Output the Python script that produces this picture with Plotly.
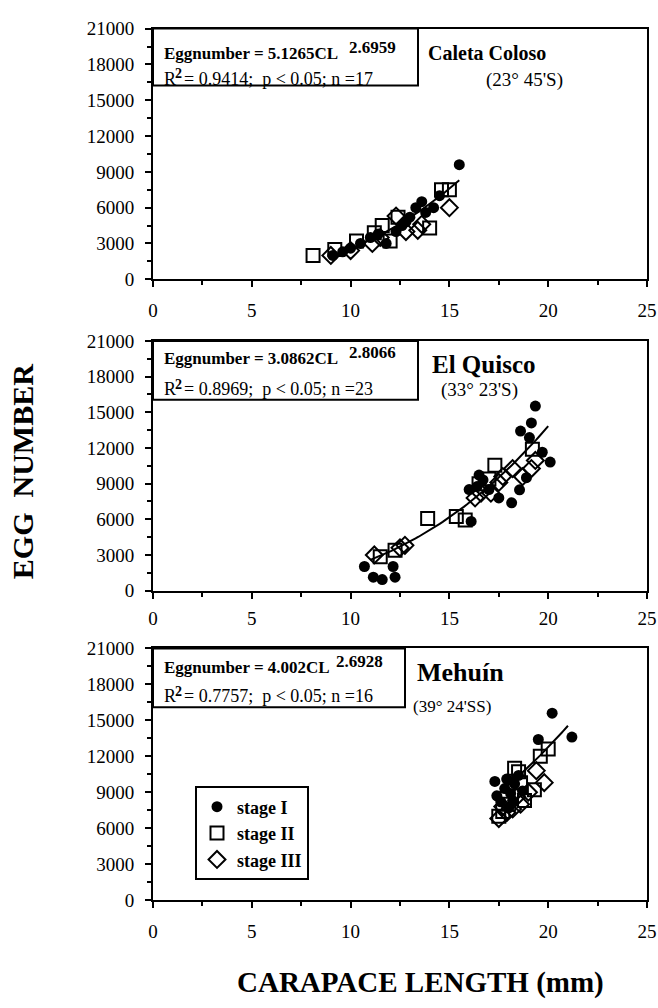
import numpy as np
import plotly.graph_objects as go

# ---------------- data ----------------
# Panel 1: Caleta Coloso
p1_s1_x = [9.1, 9.6, 10.0, 10.5, 11.0, 11.4, 11.8, 12.3, 12.6, 12.8, 13.0, 13.3, 13.6, 13.8, 14.2, 14.5, 15.5]
p1_s1_y = [2000, 2300, 2600, 3000, 3500, 3800, 3000, 4000, 4500, 4800, 5200, 6000, 6500, 5600, 6000, 7000, 9600]
p1_s2_x = [8.1, 9.2, 10.3, 11.2, 11.6, 12.0, 12.4, 14.0, 14.6, 15.0]
p1_s2_y = [2000, 2500, 3200, 3900, 4500, 3200, 5200, 4300, 7500, 7500]
p1_s3_x = [9.0, 10.0, 11.1, 11.5, 12.3, 12.8, 13.4, 13.6, 15.0]
p1_s3_y = [2000, 2400, 3000, 3500, 5300, 4000, 4100, 4600, 6000]

# Panel 2: El Quisco
p2_s1_x = [10.7, 11.15, 11.6, 12.25, 12.15, 16.1, 16.0, 16.4, 16.5, 16.7, 17.0, 17.5, 18.15, 18.55, 18.6, 18.9, 19.05, 19.15, 19.35, 19.7, 20.1]
p2_s1_y = [2030, 1130, 930, 1130, 2030, 5820, 8500, 8750, 9720, 9310, 8500, 7800, 7390, 8480, 13420, 9500, 12870, 14110, 15520, 11640, 10810]
p2_s2_x = [11.5, 12.25, 13.9, 15.35, 15.8, 16.5, 17.0, 17.3, 19.2]
p2_s2_y = [2860, 3400, 6070, 6230, 5950, 9000, 9400, 10540, 11900]
p2_s3_x = [11.2, 12.5, 12.75, 16.3, 16.6, 17.1, 17.5, 17.7, 18.2, 18.7, 19.15, 19.35]
p2_s3_y = [3000, 3600, 3810, 7800, 8200, 8200, 9100, 9600, 10270, 9580, 10270, 10950]

# Panel 3: Mehuín
p3_s1_x = [17.3, 17.4, 17.6, 17.8, 17.9, 18.0, 18.1, 18.2, 18.3, 18.5, 18.7, 19.5, 20.2, 21.2]
p3_s1_y = [9900, 8700, 8200, 9300, 10100, 7700, 8900, 8300, 9700, 10400, 9100, 13400, 15600, 13600]
p3_s2_x = [17.5, 17.7, 18.0, 18.3, 18.5, 18.6, 18.8, 19.3, 19.6, 20.0]
p3_s2_y = [7000, 7400, 8000, 11000, 10700, 9800, 8300, 9200, 12000, 12600]
p3_s3_x = [17.5, 17.7, 17.9, 18.2, 18.4, 18.6, 19.0, 19.4, 19.8]
p3_s3_y = [6800, 7800, 7300, 7600, 8600, 8000, 9000, 10800, 9800]

# Regression (published) coefficients and fitted CL range
fit_a = [5.1265, 3.0862, 4.002]
fit_b = [2.6959, 2.8066, 2.6928]
fit_xmin = [9.0, 11.0, 17.4]
fit_xmax = [15.5, 20.0, 21.0]
eq_lhs = ["Eggnumber = 5.1265CL", "Eggnumber = 3.0862CL", "Eggnumber = 4.002CL"]
eq_exp = ["2.6959", "2.8066", "2.6928"]
r2_vals = ["0.9414", "0.8969", "0.7757"]
n_vals = ["17", "23", "16"]
site_names = ["Caleta Coloso", "El Quisco", "Mehuín"]
site_lats = ["(23° 45'S)", "(33° 23'S)", "(39° 24'SS)"]

x_ticks = [0, 5, 10, 15, 20, 25]
x_ticktext = ["0", "5", "10", "15", "20", "25"]
y_ticks = [0, 3000, 6000, 9000, 12000, 15000, 18000, 21000]
y_ticktext = ["0", "3000", "6000", "9000", "12000", "15000", "18000", "21000"]
stage_names = ["stage I", "stage II", "stage III"]

# ---------------- layout geometry ----------------
W, H = 658, 1008
ML, MR = 153, 11
panel_px = [(19, 275), (338, 593), (652, 909)]  # top, bottom in pixels


def py(v):
    return 1 - v / H


def px(v):
    return (v - ML) / (W - ML - MR)


FONT = "Liberation Serif"
fig = go.Figure()

series = [
    [(p1_s1_x, p1_s1_y), (p1_s2_x, p1_s2_y), (p1_s3_x, p1_s3_y)],
    [(p2_s1_x, p2_s1_y), (p2_s2_x, p2_s2_y), (p2_s3_x, p2_s3_y)],
    [(p3_s1_x, p3_s1_y), (p3_s2_x, p3_s2_y), (p3_s3_x, p3_s3_y)],
]
marker_styles = [
    dict(symbol="circle", size=11, color="black", line=dict(width=0)),
    dict(symbol="square-open", size=13, color="black", line=dict(width=2, color="black")),
    dict(symbol="diamond-open", size=13, color="black", line=dict(width=2, color="black")),
]

for i in range(3):
    xa = "x" if i == 0 else f"x{i+1}"
    ya = "y" if i == 0 else f"y{i+1}"
    for s in [2, 1, 0]:
        xs, ys = series[i][s]
        fig.add_trace(go.Scatter(
            x=xs, y=ys, mode="markers", marker=marker_styles[s],
            name=f"<b>{stage_names[s]}</b>", xaxis=xa, yaxis=ya,
            showlegend=(i == 2), legendrank=s,
        ))
    cl = np.linspace(fit_xmin[i], fit_xmax[i], 60)
    fig.add_trace(go.Scatter(
        x=cl, y=fit_a[i] * cl ** fit_b[i], mode="lines",
        line=dict(color="black", width=2), xaxis=xa, yaxis=ya, showlegend=False,
    ))

axis_common = dict(showgrid=False, zeroline=False, showline=True, linecolor="black",
                   linewidth=2, mirror=True, ticks="outside", tickcolor="black",
                   tickfont=dict(family=FONT, size=19, color="black"))

layout = dict(
    width=W, height=H, plot_bgcolor="white", paper_bgcolor="white",
    margin=dict(l=ML, r=MR, t=0, b=0),
    showlegend=True,
    legend=dict(x=px(195), y=py(793), xanchor="left", yanchor="top",
                bordercolor="black", borderwidth=2, bgcolor="white",
                font=dict(family=FONT, size=18, color="black"),
                tracegroupgap=0, itemwidth=30, traceorder="normal"),
)

shapes = []
annotations = []
for i, (top, bot) in enumerate(panel_px):
    xk = "xaxis" if i == 0 else f"xaxis{i+1}"
    yk = "yaxis" if i == 0 else f"yaxis{i+1}"
    ya = "y" if i == 0 else f"y{i+1}"
    xa = "x" if i == 0 else f"x{i+1}"
    layout[xk] = dict(axis_common, domain=[0, 1], range=[0, 25], anchor=ya,
                      tickmode="array", tickvals=x_ticks, ticktext=x_ticktext,
                      ticklen=6, tickwidth=2, ticklabelstandoff=(4 if i == 1 else 7),
                      minor=dict(dtick=2.5, ticklen=4, tickwidth=1.5, tickcolor="black", ticks="outside"))
    layout[yk] = dict(axis_common, domain=[py(bot), py(top)], range=[0, 21000], anchor=xa,
                      tickmode="array", tickvals=y_ticks, ticktext=y_ticktext,
                      ticklen=6, tickwidth=2, ticklabelstandoff=7,
                      minor=dict(dtick=1500, ticklen=4, tickwidth=1.5, tickcolor="black", ticks="outside"))

# Equation boxes and texts
eq_boxes = [(153, 418, 19, 77), (153, 418, 338, 398), (153, 405, 652, 712)]
eq_exp_x = [347, 347, 334]
eq_line_y = [(44, 70), (356, 387), (671, 701)]
site_pos = [((487, 44, 20, 19), (524, 72)), ((484, 362, 25, 19), (479, 388)), ((460, 677, 26, 17), (452, 711))]
for i in range(3):
    x0, x1, y0, y1 = eq_boxes[i]
    shapes.append(dict(type="rect", xref="paper", yref="paper",
                       x0=px(x0), x1=px(x1), y0=py(y1), y1=py(y0),
                       line=dict(color="black", width=2), fillcolor="white", layer="above"))
    ly1, ly2 = eq_line_y[i]
    # equation line with exponent
    annotations.append(dict(xref="paper", yref="paper", x=px(162), y=py(ly1),
                            xanchor="left", yanchor="middle", showarrow=False,
                            text=f"<b>{eq_lhs[i]}</b>", font=dict(family=FONT, size=17, color="black")))
    annotations.append(dict(xref="paper", yref="paper", x=px(eq_exp_x[i]), y=py(ly1 - 6),
                            xanchor="left", yanchor="middle", showarrow=False,
                            text=f"<b>{eq_exp[i]}</b>", font=dict(family=FONT, size=17, color="black")))
    # R2 line
    annotations.append(dict(xref="paper", yref="paper", x=px(162), y=py(ly2),
                            xanchor="left", yanchor="middle", showarrow=False,
                            text="R", font=dict(family=FONT, size=18, color="black")))
    annotations.append(dict(xref="paper", yref="paper", x=px(173), y=py(ly2 - 5),
                            xanchor="left", yanchor="middle", showarrow=False,
                            text="<b>2</b>", font=dict(family=FONT, size=14, color="black")))
    annotations.append(dict(xref="paper", yref="paper", x=px(182), y=py(ly2),
                            xanchor="left", yanchor="middle", showarrow=False,
                            text=f"= {r2_vals[i]};  p < 0.05; n ={n_vals[i]}",
                            font=dict(family=FONT, size=18, color="black")))
    (nx, ny, ns, ls), (lx, ly) = site_pos[i]
    annotations.append(dict(xref="paper", yref="paper", x=px(nx), y=py(ny),
                            xanchor="center", yanchor="middle", showarrow=False,
                            text=f"<b>{site_names[i]}</b>",
                            font=dict(family=FONT, size=ns, color="black")))
    annotations.append(dict(xref="paper", yref="paper", x=px(lx), y=py(ly),
                            xanchor="center", yanchor="middle", showarrow=False,
                            text=site_lats[i],
                            font=dict(family=FONT, size=ls, color="black")))

annotations.append(dict(xref="paper", yref="paper", x=px(22), y=py(472),
                        xanchor="center", yanchor="middle", showarrow=False, textangle=-90,
                        text="<b>EGG  NUMBER</b>",
                        font=dict(family=FONT, size=30, color="black")))
annotations.append(dict(xref="paper", yref="paper", x=px(420), y=py(993),
                        xanchor="center", yanchor="middle", showarrow=False,
                        text="<b>CARAPACE LENGTH (mm)</b>",
                        font=dict(family=FONT, size=29, color="black")))

layout["shapes"] = shapes
layout["annotations"] = annotations
fig.update_layout(**layout)
fig.write_html("out.html")
